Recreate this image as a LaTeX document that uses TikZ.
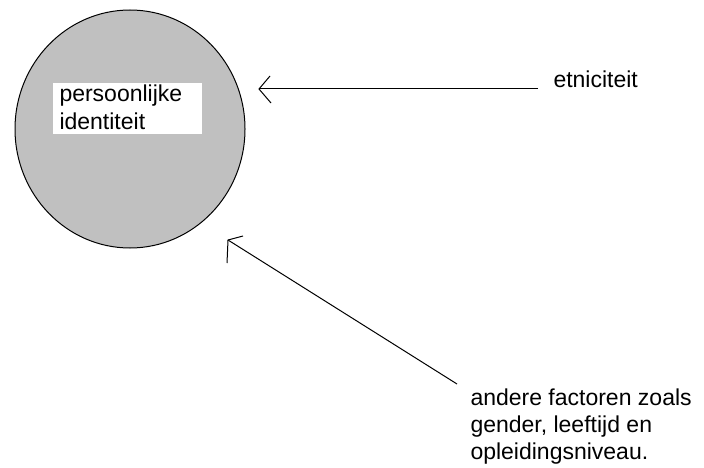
\documentclass[tikz,border=0pt]{standalone}
\usepackage{fontspec}
\setmainfont{Liberation Sans}
\usetikzlibrary{shapes.geometric}
\definecolor{circgray}{RGB}{192,192,192}
\begin{document}
\begin{tikzpicture}[x=1pt,y=-1pt,line width=1pt,
  lbl/.style={inner sep=0pt,font=\fontsize{23}{27}\selectfont,align=left},
  conn/.style={draw=black,line width=1pt}]
\useasboundingbox (0,0) rectangle (704,468);
\node[ellipse, minimum width=230pt, minimum height=238pt, inner sep=0pt, draw=black, fill=circgray] (circ) at (130,129) {};
\fill[white] (53,83) rectangle (202,134);
\node[lbl,anchor=base west] (pi1) at (59,102) {persoonlijke};
\node[lbl,anchor=base west] (pi2) at (59,130) {identiteit};
\node[lbl,anchor=base west] (etn) at (553,88) {etniciteit};
\node[lbl,anchor=base west] (f1) at (470,405) {andere factoren zoals};
\node[lbl,anchor=base west] (f2) at (470,432) {gender, leeftijd en};
\node[lbl,anchor=base west] (f3) at (470,459) {opleidingsniveau.};
\coordinate (tipA) at (259,89);
\coordinate (startA) at (538,89);
\coordinate (tipB) at (228,240);
\coordinate (startB) at (457,384);
\draw[conn] (startA) -- (tipA);
\draw[conn] (270,76) -- (tipA) -- (271,103);
\draw[conn] (startB) -- (tipB);
\draw[conn] (227,263) -- (tipB) -- (243,236);
\end{tikzpicture}
\end{document}
